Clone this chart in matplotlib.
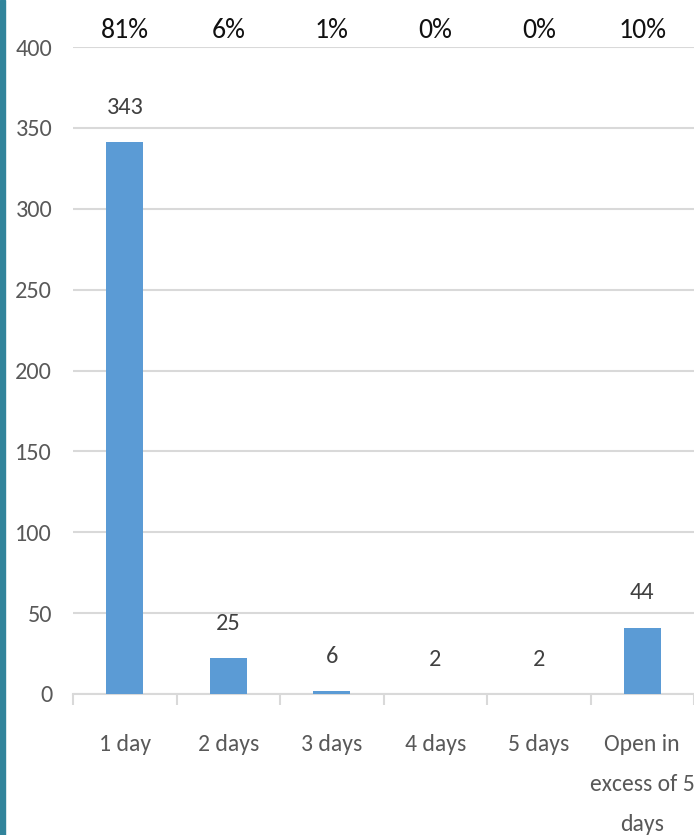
import matplotlib
matplotlib.use("Agg")
import matplotlib.pyplot as plt
from matplotlib.patches import Rectangle
import matplotlib.transforms as mtransforms

categories = ["1 day", "2 days", "3 days", "4 days", "5 days", "Open in\nexcess of 5\ndays"]
bar_values = [341, 22, 2, 0, 0, 41]
count_labels = ["343", "25", "6", "2", "2", "44"]
percent_labels = ["81%", "6%", "1%", "0%", "0%", "10%"]
yticks = [0, 50, 100, 150, 200, 250, 300, 350, 400]

plt.rcParams['font.family'] = ['Carlito', 'DejaVu Sans']

fig = plt.figure(figsize=(6.94, 8.35), dpi=100)
ax = fig.add_axes([73/694, 1-694/835, 1-73/694, (694-47)/835])

x = list(range(len(categories)))
ax.bar(x, bar_values, width=0.36, color="#5B9BD5", zorder=3)

ax.set_xlim(-0.5, len(categories)-0.5)
ax.set_ylim(0, 400)
ax.set_yticks(yticks)
ax.set_yticklabels([str(v) for v in yticks], fontsize=17.5, color="#595959")
ax.yaxis.grid(True, color="#D9D9D9", linewidth=1.5, zorder=0)
ax.set_axisbelow(True)
ax.tick_params(axis='y', length=0, pad=15)

for s in ["left", "right", "top"]:
    ax.spines[s].set_visible(False)
ax.spines["bottom"].set_color("#D9D9D9")
ax.spines["bottom"].set_linewidth(1.5)

ax.set_xticks(x)
ax.set_xticklabels(categories, fontsize=17, color="#595959", linespacing=2.12, va="top")
ax.tick_params(axis='x', length=0, pad=28.5)
ax.set_xticks([i + 0.5 for i in range(-1, len(categories))], minor=True)
ax.tick_params(axis='x', which='minor', length=8, color="#D9D9D9", width=1.5)

for xi, v, lab in zip(x, bar_values, count_labels):
    ax.annotate(lab, (xi, v), xytext=(0, 25), textcoords="offset points",
                ha="center", va="center", fontsize=17.5, color="#404040")

trans = mtransforms.blended_transform_factory(ax.transData, ax.transAxes)
for xi, lab in zip(x, percent_labels):
    ax.text(xi, 1.0 + 17/647, lab, transform=trans, ha="center", va="center",
            fontsize=20, color="#111111")

fig.patches.append(Rectangle((0, 0), 5/694, 1, transform=fig.transFigure,
                             color="#31849B", zorder=10))

fig.savefig("out.png", dpi=100)
